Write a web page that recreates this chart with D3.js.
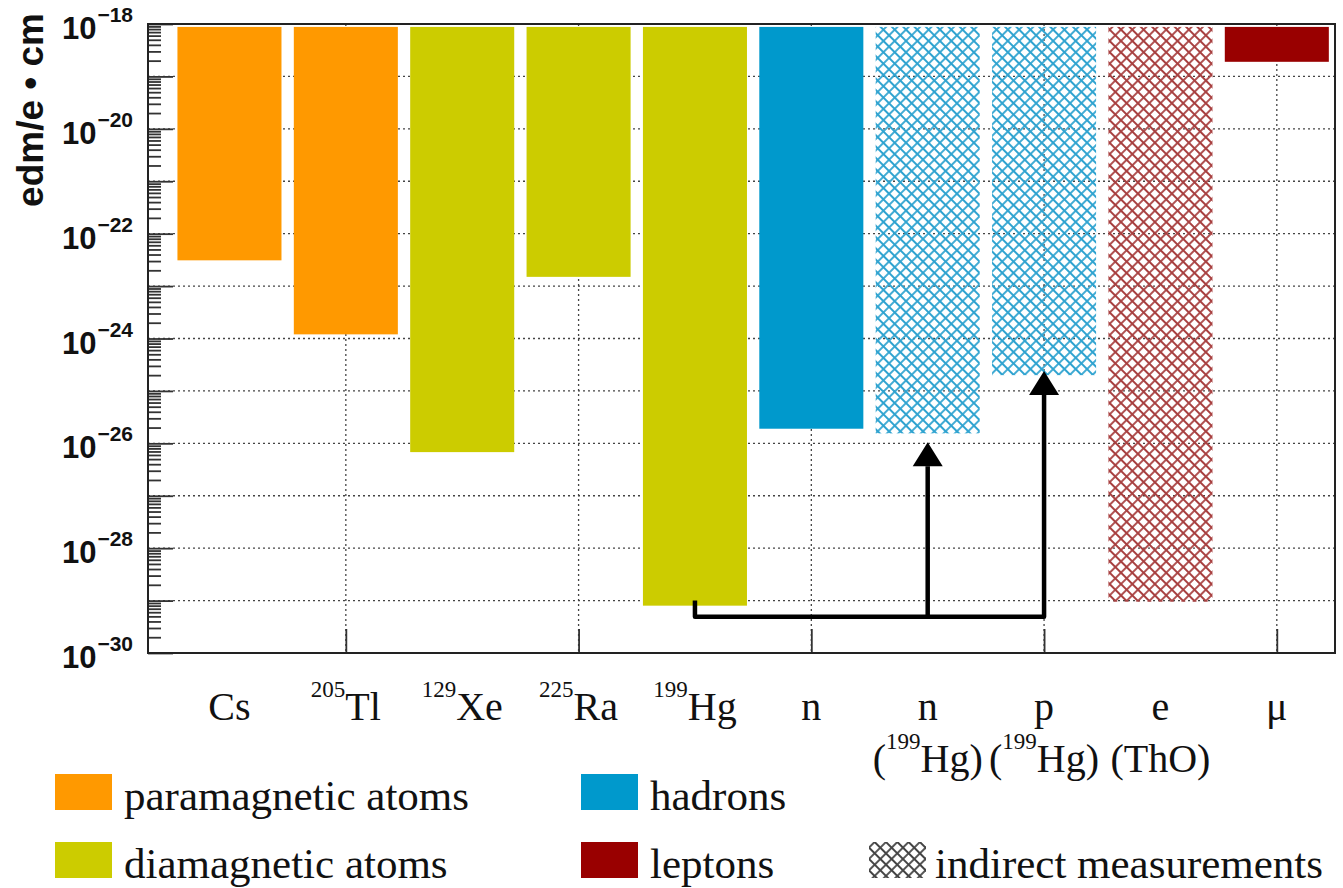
<!DOCTYPE html>
<html lang="en">
<head>
  <meta charset="UTF-8">
  <title>EDM limits</title>
  <script src="https://d3js.org/d3.v7.min.js"></script>
  <style>
    body { margin: 0; background: #fff; }
    .cat { font-family: "Liberation Serif", "Times New Roman", serif; font-size: 40px; fill: #111; }
    .legend text { font-family: "Liberation Serif", "Times New Roman", serif; font-size: 43px; fill: #111; }
    .ylab { font-family: "Liberation Sans", Arial, sans-serif; font-weight: bold; fill: #111; }
    .grid line { stroke: #444; stroke-width: 1.3; stroke-dasharray: 2, 3; }
    .axis line { stroke: #333; stroke-width: 1.8; }
    .axis path { display: none; }
  </style>
</head>
<body>
  <svg id="chart" width="1343" height="888"></svg>
  <script>
    // categories (index 1..10 on a numeric x axis)
    var categories = ["Cs", "205Tl", "129Xe", "225Ra", "199Hg", "n", "n (199Hg)", "p (199Hg)", "e (ThO)", "mu"];
    var labelSup = ["", "205", "129", "225", "199", "", "", "", "", ""];
    var labelMain = ["Cs", "Tl", "Xe", "Ra", "Hg", "n", "n", "p", "e", "\u03bc"];
    var label2Pre = ["", "", "", "", "", "", "(", "(", "(ThO)", ""];
    var label2Sup = ["", "", "", "", "", "", "199", "199", "", ""];
    var label2Post = ["", "", "", "", "", "", "Hg)", "Hg)", "", ""];

    // upper limits on the EDM (e cm)
    var limits = [3.1e-23, 1.2e-24, 6.8e-27, 1.5e-23, 8.0e-30, 1.9e-26, 1.55e-26, 2.0e-25, 9.5e-30, 1.9e-19];
    var groups = ["para", "para", "dia", "dia", "dia", "hadron", "hadron", "hadron", "lepton", "lepton"];
    var indirect = [false, false, false, false, false, false, true, true, true, false];
    var barTop = 8.8e-19;

    // arrow from 199Hg to the derived n and p limits
    var arrowStart = 1.0e-29;
    var arrowLevel = 4.9e-30;
    var arrowFrom = 5;
    var arrowTargets = [7, 8];
    var arrowTips = [1.05e-26, 2.4e-25];

    var legendLabels = ["paramagnetic atoms", "diamagnetic atoms", "hadrons", "leptons", "indirect measurements"];
    var legendKeys = ["para", "dia", "hadron", "lepton", "hatch"];
    var legendCol = [0, 0, 1, 1, 2];
    var legendRow = [0, 1, 0, 1, 1];

    var colors = { para: "#ff9900", dia: "#cccc00", hadron: "#0099cc", lepton: "#990000" };
    var hatchColors = { hadron: "#2fa3d0", lepton: "#a84040", hatch: "#444" };

    var margin = { top: 24, right: 8, bottom: 235, left: 148 },
      width = 1343 - margin.left - margin.right,
      height = 888 - margin.top - margin.bottom;

    var svg = d3.select("#chart");
    var defs = svg.append("defs");
    Object.keys(hatchColors).forEach(function (k) {
      var p = defs.append("pattern")
        .attr("id", "hatch-" + k)
        .attr("patternUnits", "userSpaceOnUse")
        .attr("width", 8).attr("height", 8)
        .attr("patternTransform", "rotate(45)");
      p.append("path")
        .attr("d", "M0,4H8M4,0V8")
        .attr("stroke", hatchColors[k])
        .attr("stroke-width", 1.8);
    });

    var g = svg.append("g")
      .attr("transform", "translate(" + margin.left + "," + margin.top + ")");

    var x = d3.scaleLinear().domain([0.3, 10.5]).range([0, width]);
    var y = d3.scaleLog().domain([1e-30, 1e-18]).range([height, 0]);
    var halfW = 0.447;

    // grid
    var decades = d3.range(-29, -18).map(function (e) { return Math.pow(10, e); });
    var grid = g.append("g").attr("class", "grid");
    grid.selectAll(".h").data(decades).enter().append("line")
      .attr("x1", 0).attr("x2", width)
      .attr("y1", function (d) { return y(d); })
      .attr("y2", function (d) { return y(d); });
    grid.selectAll(".v").data([2, 4, 6, 8, 10]).enter().append("line")
      .attr("y1", 0).attr("y2", height)
      .attr("x1", function (d) { return x(d); })
      .attr("x2", function (d) { return x(d); });

    // bars
    g.selectAll(".bar")
      .data(limits)
      .enter().append("rect")
      .attr("class", "bar")
      .attr("x", function (d, i) { return x(i + 1 - halfW); })
      .attr("width", function (d, i) { return x(i + 1 + halfW) - x(i + 1 - halfW); })
      .attr("y", y(barTop))
      .attr("height", function (d) { return y(d) - y(barTop); })
      .attr("fill", function (d, i) {
        return indirect[i] ? "url(#hatch-" + groups[i] + ")" : colors[groups[i]];
      });

    // arrows
    var arrows = g.append("g");
    var xr = x(arrowTargets[arrowTargets.length - 1]);
    var headL = 24, headW = 15;
    arrows.append("path")
      .attr("d", "M" + x(arrowFrom) + "," + y(arrowStart) +
        "V" + y(arrowLevel) + "H" + xr +
        "V" + (y(arrowTips[arrowTips.length - 1]) + headL))
      .attr("fill", "none").attr("stroke", "#000")
      .attr("stroke-width", 4.5).attr("stroke-linejoin", "round");
    arrowTargets.forEach(function (t, i) {
      var xt = x(t), yt = y(arrowTips[i]);
      if (i < arrowTargets.length - 1) {
        arrows.append("path")
          .attr("d", "M" + xt + "," + y(arrowLevel) + "V" + (yt + headL))
          .attr("stroke", "#000").attr("stroke-width", 4.5);
      }
      arrows.append("path")
        .attr("d", "M" + xt + "," + yt + "L" + (xt - headW) + "," + (yt + headL) +
          "L" + (xt + headW) + "," + (yt + headL) + "Z")
        .attr("fill", "#000");
    });

    // y axis ticks (inside the frame)
    var minorVals = [];
    d3.range(-30, -18).forEach(function (e) {
      d3.range(2, 10).forEach(function (m) { minorVals.push(m * Math.pow(10, e)); });
    });
    var majorVals = d3.range(-30, -17).map(function (e) { return Math.pow(10, e); });

    g.append("g").attr("class", "axis")
      .call(d3.axisLeft(y).tickValues(minorVals).tickSize(-13).tickFormat(""));
    g.append("g").attr("class", "axis")
      .call(d3.axisLeft(y).tickValues(majorVals).tickSize(-25).tickFormat(""));
    g.append("g").attr("class", "axis")
      .attr("transform", "translate(0," + height + ")")
      .call(d3.axisBottom(x).tickValues([2, 4, 6, 8, 10]).tickSize(-24).tickFormat(""));

    // y tick labels 10^n
    var labelExps = [-18, -20, -22, -24, -26, -28, -30];
    var yl = g.selectAll(".ylab").data(labelExps).enter().append("text")
      .attr("class", "ylab")
      .attr("text-anchor", "end")
      .attr("x", -15)
      .attr("y", function (d) { return y(Math.pow(10, d)) + 15; });
    yl.append("tspan").attr("font-size", 31).text("10");
    yl.append("tspan").attr("font-size", 21).attr("dy", -17).attr("dx", 1)
      .text(function (d) { return "\u2212" + (-d); });

    // frame
    g.append("rect")
      .attr("width", width).attr("height", height)
      .attr("fill", "none").attr("stroke", "#222").attr("stroke-width", 2);

    // y axis title
    svg.append("text")
      .attr("class", "ylab")
      .attr("font-size", 37)
      .attr("text-anchor", "end")
      .attr("transform", "translate(43,13) rotate(-90)")
      .text("edm/e \u2022 cm");

    // category labels
    var cl = svg.selectAll(".cat1").data(categories).enter().append("text")
      .attr("class", "cat")
      .attr("text-anchor", "middle")
      .attr("x", function (d, i) { return margin.left + x(i + 1); })
      .attr("y", 720);
    cl.append("tspan").attr("font-size", 23).attr("dy", -23)
      .text(function (d, i) { return labelSup[i]; });
    cl.append("tspan").attr("dy", function (d, i) { return labelSup[i] ? 23 : 0; })
      .text(function (d, i) { return labelMain[i]; });

    var cl2 = svg.selectAll(".cat2").data(categories).enter().append("text")
      .attr("class", "cat")
      .attr("text-anchor", "middle")
      .attr("x", function (d, i) { return margin.left + x(i + 1); })
      .attr("y", 772);
    cl2.append("tspan").text(function (d, i) { return label2Pre[i]; });
    cl2.append("tspan").attr("font-size", 23)
      .attr("dy", function (d, i) { return label2Sup[i] ? -23 : 0; })
      .text(function (d, i) { return label2Sup[i]; });
    cl2.append("tspan")
      .attr("dy", function (d, i) { return label2Sup[i] ? 23 : 0; })
      .text(function (d, i) { return label2Post[i]; });

    // legend
    var colX = [55, 581, 869];
    var rowY = [774, 842];
    var lg = svg.append("g").attr("class", "legend");
    var items = lg.selectAll("g").data(legendLabels).enter().append("g")
      .attr("transform", function (d, i) {
        return "translate(" + colX[legendCol[i]] + "," + rowY[legendRow[i]] + ")";
      });
    items.append("rect")
      .attr("width", 57).attr("height", 36)
      .attr("fill", function (d, i) {
        var k = legendKeys[i];
        return k === "hatch" ? "url(#hatch-hatch)" : colors[k];
      });
    items.append("text")
      .attr("x", function (d, i) { return legendKeys[i] === "hatch" ? 66 : 69; })
      .attr("y", 36)
      .text(function (d) { return d; });
  </script>
</body>
</html>
